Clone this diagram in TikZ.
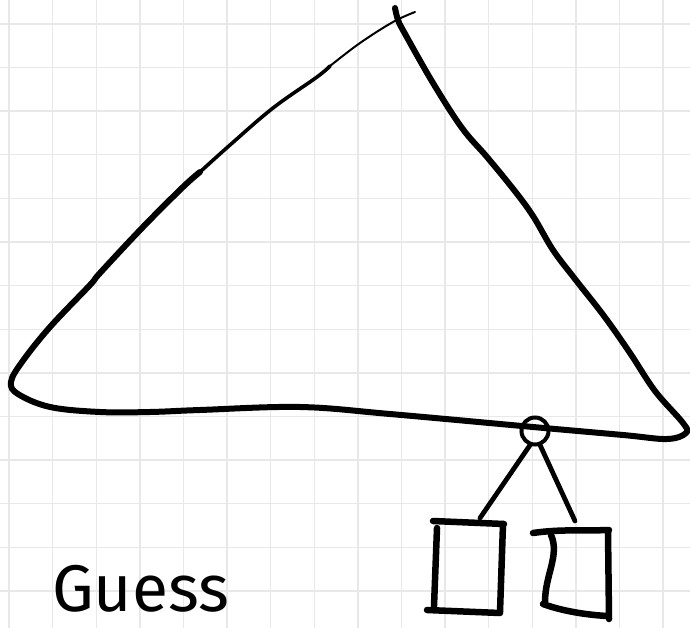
\documentclass[tikz,border=0pt]{standalone}
\usepackage{fontspec}
\newfontfamily\handfont{Fira Sans}
\begin{document}
\begin{tikzpicture}[x=1pt,y=-1pt,
  gridline/.style={draw=black!9,line width=1.4pt},
  ink/.style={draw=black,line cap=round,line join=round},
  hinge/.style={circle,draw=black,line width=4pt,minimum size=27pt,inner sep=0pt},
  hanger/.style={ink,line width=4.8pt},
  boxline/.style={ink,line width=6.5pt},
  label/.style={font=\handfont\fontsize{66}{66}\selectfont,inner sep=0pt}]
\useasboundingbox (0,0) rectangle (690,628);
\fill[white] (0,0) rectangle (690,628);
% grid
\foreach \i in {0,...,15} \draw[gridline] ({9+43.6*\i},0) -- ({9+43.6*\i},628);
\foreach \j in {0,...,13} \draw[gridline] (0,{24+43.6*\j}) -- (690,{24+43.6*\j});
% triangle
\draw[ink,line width=2pt] plot[smooth,tension=0.6] coordinates {(415,12) (393,22) (360,43) (330,66)};
\draw[ink,line width=3.6pt] plot[smooth,tension=0.6] coordinates {(330,66) (317,77) (273,108) (230,145) (200,172)};
\draw[ink,line width=6pt] plot[smooth,tension=0.6] coordinates {(200,172) (183,187) (143,227) (100,273) (90,285) (50,327) (22,362) (11,382) (18,394) (50,407) (100,412) (150,412) (200,410) (300,407) (390,414) (533,427) (623,435) (667,439) (686,433) (683,423) (655,391) (630,353) (604,316) (575,279) (553,250) (533,216) (514,190) (487,157) (462,128) (433,83) (404,32) (398,20) (395,8)};
% hinge and hangers
\node[hinge] (h) at (535,431) {};
\coordinate (la) at (480,518);
\coordinate (ra) at (575,521);
\draw[hanger] (h.250) -- (la);
\draw[hanger] (h.290) -- (ra);
% left box
\draw[boxline] (433,521) -- (504,524);
\draw[boxline] (437,528) -- (434,606);
\draw[boxline] (427,610) -- (500,613);
\draw[boxline] (503,524) -- (500,612);
% right box
\draw[boxline] (533,533) .. controls (560,529) and (585,531) .. (609,530);
\draw[boxline] (551,535) .. controls (560,555) and (545,575) .. (545,602);
\draw[boxline] (543,604) .. controls (565,612) and (590,615) .. (607,616);
\draw[boxline] (608,531) -- (609,619);
% text
\node[label,anchor=base west] (g) at (52,611) {Guess};
\end{tikzpicture}
\end{document}
